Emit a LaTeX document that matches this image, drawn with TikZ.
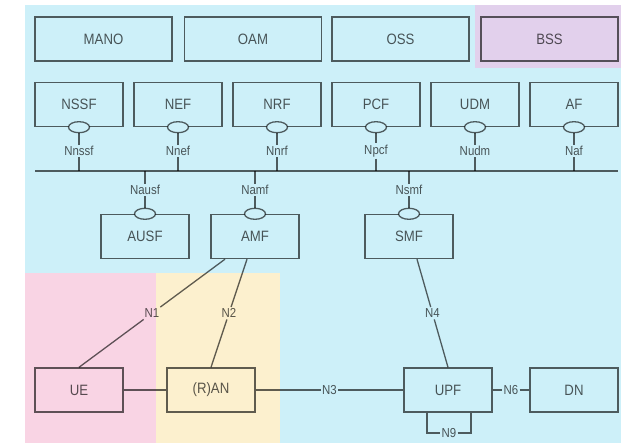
\documentclass[tikz,border=0pt]{standalone}
\usepackage{fontspec}
\setmainfont{Liberation Sans}
\newfontfamily\narrowsans[FakeStretch=0.88]{Liberation Sans}
\usetikzlibrary{shapes.geometric}

\definecolor{bgblue}{RGB}{205,240,249}
\definecolor{bgpurple}{RGB}{226,208,236}
\definecolor{bgpink}{RGB}{249,212,228}
\definecolor{bgyellow}{RGB}{252,240,206}

\tikzset{
  nf/.style={draw=black, draw opacity=0.62, text opacity=0.65, line width=1.4pt,
    minimum width=88pt, minimum height=44pt, inner sep=0pt,
    font=\narrowsans\fontsize{15}{17}\selectfont},
  widenf/.style={nf, minimum width=137pt},
  port/.style={ellipse, draw=black, draw opacity=0.62, fill=bgblue, line width=1.3pt,
    minimum width=21pt, minimum height=11pt, inner sep=0pt},
  ifl/.style={inner sep=1.5pt, text opacity=0.65, font=\narrowsans\fontsize{13}{15}\selectfont},
  link/.style={draw=black, draw opacity=0.62, line width=1.3pt},
}

\begin{document}
\begin{tikzpicture}[x=1pt, y=-1pt]
  \useasboundingbox (0,0) rectangle (621,443);

  % domain backgrounds
  \fill[bgblue]   (25,5)   rectangle (621,443);
  \fill[bgpurple] (475,5)  rectangle (621,68);
  \fill[bgpink]   (25,273) rectangle (156,443);
  \fill[bgyellow] (156,273) rectangle (280,443);

  % management layer
  \node[widenf] (mano) at (103.5,39) {MANO};
  \node[widenf] (oam)  at (253,39)   {OAM};
  \node[widenf] (oss)  at (400.5,39) {OSS};
  \node[widenf] (bss)  at (549.5,39) {BSS};

  % service-based bus
  \coordinate (busL) at (35,171);
  \coordinate (busR) at (618,171);
  \draw[link] (busL) -- (busR);

  % network functions above the bus
  \foreach \n/\lbl/\x/\ifc in {nssf/NSSF/79/Nnssf, nef/NEF/178/Nnef, nrf/NRF/277/Nnrf,
                               pcf/PCF/376/Npcf, udm/UDM/475/Nudm, af/AF/574/Naf} {
    \node[nf] (\n) at (\x,104.5) {\lbl};
    \node[port] (p\n) at (\n.south) {};
    \node[ifl] (l\n) at (\x,151) {\ifc};
    \coordinate (b\n) at (\x,171);
    \draw[link] (p\n) -- (l\n);
    \draw[link] (l\n) -- (b\n);
  }

  % network functions below the bus
  \foreach \n/\lbl/\x/\ifc in {ausf/AUSF/145/Nausf, amf/AMF/255/Namf, smf/SMF/409/Nsmf} {
    \node[nf] (\n) at (\x,236.5) {\lbl};
    \node[port] (p\n) at (\n.north) {};
    \node[ifl] (l\n) at (\x,190) {\ifc};
    \coordinate (b\n) at (\x,171);
    \draw[link] (b\n) -- (l\n);
    \draw[link] (l\n) -- (p\n);
  }

  % user plane
  \node[nf] (ue)  at (79,390)  {UE};
  \node[nf] (ran) at (211,390) {(R)AN};
  \node[nf] (upf) at (448,390) {UPF};
  \node[nf] (dn)  at (574,390) {DN};

  % reference points
  \coordinate (amfA) at ([xshift=-30pt]amf.south);
  \coordinate (amfB) at ([xshift=-8pt]amf.south);
  \coordinate (smfA) at ([xshift=8pt]smf.south);
  \coordinate (n9a)  at ([xshift=-21pt]upf.south);
  \coordinate (n9b)  at ([xshift=23pt]upf.south);

  \path (amfA) -- node[ifl] (n1) {N1} (ue.north);
  \draw[link] (amfA) -- (n1);
  \draw[link] (n1) -- (ue.north);

  \path (amfB) -- node[ifl] (n2) {N2} (ran.north);
  \draw[link] (amfB) -- (n2);
  \draw[link] (n2) -- (ran.north);

  \path (smfA) -- node[ifl] (n4) {N4} (upf.north);
  \draw[link] (smfA) -- (n4);
  \draw[link] (n4) -- (upf.north);

  \draw[link] (ue) -- (ran);

  \path (ran) -- node[ifl, inner sep=1pt] (n3) {N3} (upf);
  \draw[link] (ran) -- (n3);
  \draw[link] (n3) -- (upf);

  \path (upf) -- node[ifl, inner sep=1pt] (n6) {N6} (dn);
  \draw[link] (upf) -- (n6);
  \draw[link] (n6) -- (dn);

  \node[ifl, inner sep=1pt] (n9) at (449,433) {N9};
  \draw[link] (n9a) |- (n9);
  \draw[link] (n9) -| (n9b);
\end{tikzpicture}
\end{document}
